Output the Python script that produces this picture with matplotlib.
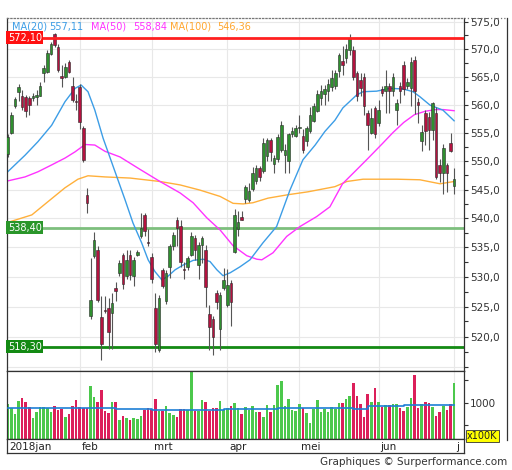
import numpy as np
import matplotlib
matplotlib.use("Agg")
import matplotlib.pyplot as plt
from matplotlib.ticker import FixedLocator, FuncFormatter, NullFormatter

# ---- data (AEX, jan-jul 2018) ----
opens = [551.2, 555.0, 559.8, 562.3, 561.5, 561.3, 561.2, 561.2, 561.3, 561.6,
         565.6, 565.9, 569.2, 572.7, 570.4, 565.1, 565.0, 567.7, 563.4, 560.7,
         563.2, 555.8, 544.1, 523.5, 533.6, 534.6, 523.3, 524.5, 524.8, 524.0,
         528.2, 530.7, 533.8, 530.1, 533.8, 530.1, 533.8, 537.0, 540.5, 535.9,
         533.3, 524.8, 517.8, 531.2, 526.0, 531.6, 535.2, 539.7, 538.6, 531.3,
         531.6, 533.8, 536.6, 532.1, 535.5, 534.6, 523.7, 522.9, 527.2, 521.3,
         528.1, 525.3, 529.0, 534.3, 538.1, 540.3, 543.4, 543.1, 545.1, 546.5,
         548.8, 548.2, 550.9, 553.7, 549.4, 550.3, 552.0, 551.1, 550.0, 554.7,
         554.4, 555.9, 554.4, 553.5, 555.3, 557.1, 558.8, 561.2, 561.8, 562.4,
         563.1, 563.3, 566.0, 567.9, 568.4, 569.8, 569.8, 565.6, 564.4, 565.0,
         558.5, 555.0, 559.3, 556.7, 562.7, 562.4, 563.3, 562.4, 559.0, 563.3,
         567.1, 563.3, 562.9, 568.0, 560.5, 553.5, 558.5, 557.8, 555.5, 558.5,
         549.2, 547.8, 549.2, 553.2, 545.7]
highs = [554.8, 558.6, 561.4, 563.6, 562.6, 561.7, 561.5, 562.0, 562.6, 564.0,
         567.1, 569.8, 571.3, 573.0, 570.9, 567.1, 567.4, 568.0, 564.9, 561.9,
         563.7, 556.1, 545.2, 533.2, 537.6, 535.2, 526.7, 526.7, 526.5, 527.3,
         529.2, 532.9, 534.1, 534.6, 534.6, 533.3, 534.6, 540.9, 540.9, 538.1,
         534.1, 527.3, 526.9, 531.5, 531.2, 535.6, 537.6, 540.3, 539.7, 532.5,
         533.5, 537.6, 537.1, 535.9, 536.9, 535.4, 525.3, 523.5, 527.8, 527.5,
         531.5, 531.3, 529.4, 541.7, 541.2, 541.3, 545.8, 546.2, 549.0, 549.2,
         549.1, 554.0, 554.0, 554.0, 551.0, 554.8, 557.0, 553.0, 555.0, 556.0,
         556.3, 558.2, 555.6, 556.2, 559.5, 560.2, 562.6, 563.5, 563.5, 564.6,
         566.2, 566.3, 569.3, 570.5, 571.0, 572.8, 570.5, 566.0, 565.6, 565.6,
         559.0, 559.3, 559.7, 560.8, 563.3, 566.2, 563.9, 565.6, 561.0, 564.0,
         567.9, 564.8, 568.6, 568.7, 561.2, 556.3, 559.0, 558.6, 560.5, 559.5,
         550.3, 553.0, 549.7, 554.9, 548.8]
lows = [550.7, 554.8, 559.4, 560.6, 559.0, 557.8, 558.2, 560.6, 560.0, 561.5,
        564.1, 565.6, 568.9, 570.4, 565.9, 563.2, 564.7, 565.6, 560.4, 559.1,
        555.6, 549.8, 540.9, 522.9, 533.2, 525.8, 516.1, 523.9, 517.9, 517.9,
        526.0, 530.1, 528.0, 529.6, 529.5, 528.5, 533.6, 536.7, 537.0, 535.2,
        529.0, 517.4, 517.5, 528.1, 525.4, 529.8, 534.5, 535.2, 531.6, 529.7,
        531.2, 533.5, 532.9, 529.6, 532.3, 525.0, 517.8, 516.9, 524.6, 517.8,
        527.8, 524.9, 521.8, 534.0, 537.0, 539.7, 542.6, 542.8, 544.8, 546.0,
        546.5, 547.9, 550.0, 550.0, 547.9, 549.8, 551.6, 547.9, 547.9, 554.2,
        554.2, 555.0, 551.4, 552.7, 555.0, 556.8, 558.6, 560.0, 560.0, 560.6,
        562.4, 562.8, 564.9, 565.4, 567.5, 569.0, 564.4, 560.7, 561.5, 558.2,
        552.0, 554.7, 554.0, 556.2, 561.5, 558.5, 558.5, 561.5, 556.4, 560.2,
        561.7, 562.7, 559.7, 558.3, 556.7, 551.8, 552.8, 552.0, 553.7, 546.9,
        546.3, 544.3, 544.6, 551.6, 544.3]
closes = [554.2, 558.2, 561.0, 563.1, 559.5, 558.9, 560.0, 561.6, 561.7, 563.4,
          566.6, 569.3, 570.9, 570.7, 566.2, 564.8, 566.8, 565.9, 560.8, 560.4,
          556.9, 550.1, 542.6, 526.1, 536.3, 526.1, 518.8, 524.3, 520.7, 525.6,
          527.6, 532.4, 528.8, 532.9, 530.4, 532.9, 534.2, 538.4, 537.8, 535.7,
          529.6, 518.8, 526.5, 528.5, 530.7, 535.2, 537.2, 538.3, 532.6, 531.1,
          533.2, 536.9, 534.6, 535.5, 536.6, 528.3, 521.5, 519.9, 525.8, 527.0,
          529.5, 528.7, 525.8, 540.5, 539.4, 539.7, 545.4, 544.8, 547.9, 548.8,
          547.1, 553.2, 553.7, 551.5, 550.6, 554.3, 556.3, 552.0, 554.7, 555.3,
          555.9, 556.0, 552.0, 555.9, 558.2, 559.7, 561.8, 562.4, 562.7, 563.6,
          564.8, 565.6, 568.9, 567.2, 570.1, 572.0, 565.0, 561.5, 562.9, 559.7,
          556.4, 557.6, 554.7, 559.0, 562.1, 563.3, 562.4, 565.0, 560.2, 562.4,
          562.7, 564.1, 567.7, 562.4, 560.0, 555.1, 555.3, 555.4, 560.2, 547.2,
          547.8, 552.3, 547.8, 551.8, 546.8]

# volume in units of 100K
volumes = [968, 886, 746, 1042, 1094, 1005, 894, 649, 797, 894,
           894, 872, 797, 923, 835, 857, 671, 746, 923, 1057,
           909, 886, 872, 1368, 1131, 1020, 1279, 820, 775, 1005,
           1005, 612, 701, 649, 612, 664, 627, 701, 835, 872,
           857, 1072, 820, 820, 923, 775, 723, 686, 857, 857,
           835, 1687, 820, 820, 1057, 1020, 820, 872, 872, 1035,
           835, 872, 931, 983, 872, 738, 894, 835, 931, 797,
           797, 686, 946, 797, 946, 1390, 1487, 923, 1072, 835,
           820, 960, 872, 775, 553, 857, 1057, 783, 857, 797,
           909, 857, 983, 983, 1079, 1146, 1427, 1146, 968, 671,
           1190, 1005, 1316, 1005, 909, 946, 946, 968, 968, 872,
           812, 909, 1094, 1613, 872, 968, 1005, 983, 894, 701,
           797, 931, 835, 968, 1427]

# moving averages, read at sample days
ma20_days = [0, 4.8, 8.4, 12.2, 15.9, 18.7, 20.4, 22.3, 24.2, 26.5, 32.6, 34.8,
             37.2, 39.0, 40.9, 42.8, 44.5, 46.5, 48.7, 51.5, 54.3, 56.2, 58.1,
             59.8, 61.8, 64.5, 67.3, 70.9, 74.7, 78.4, 82.0, 85.4, 88.1, 90.9,
             93.1, 96.9, 98.7, 102.5, 106.2, 109.8, 112.6, 114.5, 117.3, 120.9, 124]
ma20_vals = [548.1, 551.0, 553.4, 556.3, 560.5, 562.9, 563.5, 562.3, 559.0, 554.0,
             543.2, 539.2, 535.8, 532.9, 530.9, 529.5, 530.1, 531.2, 532.0, 532.8,
             533.0, 532.6, 531.2, 530.2, 530.7, 531.7, 532.9, 535.8, 538.6, 544.9,
             550.2, 552.8, 555.2, 557.2, 559.4, 561.7, 562.3, 562.4, 562.9, 562.8,
             562.3, 561.4, 559.9, 559.0, 557.1]
ma50_days = [0, 4.8, 8.4, 12.2, 15.9, 18.7, 21.5, 24.2, 27.0, 31.2, 36.8, 42.3,
             47.9, 51.5, 55.3, 59.0, 62.6, 66.4, 69.2, 70.6, 73.7, 77.5, 81.2,
             85.8, 89.5, 93, 97, 100, 104, 107, 110, 113, 116, 119, 121, 124]
ma50_vals = [546.5, 547.2, 548.1, 549.3, 550.5, 551.6, 552.9, 552.8, 551.7, 550.7,
             548.5, 546.4, 544.4, 542.7, 540.1, 538.0, 535.3, 533.6, 533.0, 532.9,
             534.1, 536.9, 538.6, 540.3, 542.0, 546.0, 548.5, 550.4, 553.0, 555.0,
             556.8, 558.2, 558.8, 559.1, 559.1, 558.9]
ma100_days = [0, 6.7, 11.2, 15.9, 19.5, 22.3, 27.0, 34, 42.3, 47.9, 53.4, 59.0,
              62.6, 65.4, 68.1, 72.3, 77.9, 83.4, 90.9, 94.2, 98.7, 108.1, 114.5,
              120.1, 124]
ma100_vals = [539.3, 540.6, 542.9, 545.3, 546.8, 547.4, 547.2, 547.0, 546.4, 545.8,
              544.9, 543.8, 542.6, 542.5, 542.7, 543.5, 544.1, 544.6, 545.5, 546.4,
              546.8, 546.8, 546.7, 546.0, 546.4]
vol_ma_days = [0, 10, 20, 30, 40, 50, 55, 60, 70, 75, 80, 90, 96, 100, 105, 110, 124]
vol_ma_vals = [872, 872, 872, 868, 840, 828, 842, 850, 853, 870, 886, 880, 864,
               920, 935, 946, 946]

resistance = 572.10
supports = [538.40, 518.30]
month_days = [20, 40, 61, 81, 103, 124]
month_labels = ["feb", "mrt", "apr", "mei", "jun", "j"]

# ---- figure ----
W, H = 512, 470
fig = plt.figure(figsize=(W / 100, H / 100), dpi=100)
plt.rcParams['font.family'] = ['DejaVu Sans']


def box(l, t, r, b):
    return [l / W, 1 - b / H, (r - l) / W, (b - t) / H]


ax = fig.add_axes(box(7, 18, 464, 371))
axv = fig.add_axes(box(7, 371, 464, 439), sharex=ax)
axd = fig.add_axes(box(7, 439, 464, 453), sharex=ax)

n = len(closes)
days = np.arange(n)
o = np.array(opens)
c = np.array(closes)
up = c >= o
green_c, red_c = '#2f8f2f', '#b3123f'
cols = np.where(up, green_c, red_c)

ax.set_yscale('log')
ax.vlines(days, lows, highs, color='#555555', lw=0.8, zorder=3)
ax.bar(days, np.maximum(np.abs(c - o), 0.15), bottom=np.minimum(o, c), width=0.68,
       color=cols, edgecolor='#2a2a2a', lw=0.4, zorder=4)

ax.plot(ma100_days, ma100_vals, color='#ffb03b', lw=1.0, zorder=2)
ax.plot(ma50_days, ma50_vals, color='#ff33ff', lw=1.0, zorder=2)
ax.plot(ma20_days, ma20_vals, color='#3c9de6', lw=1.0, zorder=2)

ax.axhline(resistance, color='#ff2020', lw=2, zorder=5)
ax.axhline(supports[0], color='#7dbf7d', lw=2, zorder=1)
ax.axhline(supports[1], color='#138a13', lw=2, zorder=1)

lab_kw = dict(transform=ax.get_yaxis_transform(), ha='left', va='center',
              fontsize=7, color='white', zorder=6)
ax.text(0.002, resistance, "572,10", bbox=dict(boxstyle='square,pad=0.15', fc='#ff1010', ec='none'), **lab_kw)
ax.text(0.002, supports[0], "538,40", bbox=dict(boxstyle='square,pad=0.15', fc='#2a962a', ec='none'), **lab_kw)
ax.text(0.002, supports[1], "518,30", bbox=dict(boxstyle='square,pad=0.15', fc='#138a13', ec='none'), **lab_kw)

ylo, yhi = 514.3, 575.7
ax.set_ylim(ylo, yhi)
ax.set_xlim(-0.2, 126.75)
ax.yaxis.tick_right()
majors = np.arange(515, 576, 5)
ax.yaxis.set_major_locator(FixedLocator(majors))
ax.yaxis.set_minor_locator(FixedLocator(majors + 2.5))
ax.yaxis.set_major_formatter(FuncFormatter(
    lambda v, p: "" if v < 517 else f"{v:.1f}".replace('.', ',')))
ax.yaxis.set_minor_formatter(NullFormatter())
ax.tick_params(axis='y', which='major', length=3, pad=1.5, labelsize=7.5,
               colors='#333333', width=0.8)
ax.tick_params(axis='y', which='minor', length=3, color='#333333', width=0.8)
ax.tick_params(axis='x', bottom=False, labelbottom=False)
for v in majors:
    ax.axhline(v, color='#e8e8e8', lw=0.8, zorder=0)
for d in month_days:
    ax.axvline(d, color='#e8e8e8', lw=0.8, zorder=0)
    axv.axvline(d, color='#e8e8e8', lw=0.8, zorder=0)

for a in (ax, axv, axd):
    for s in a.spines.values():
        s.set_color('#333333')
        s.set_linewidth(0.9)
ax.spines['top'].set_linestyle(':')
ax.spines['top'].set_color('#777777')

# MA legend
top = 0.975
for xp, txt, col in [(12, "MA(20)", '#3c9de6'), (49.5, "557,11", '#3c9de6'),
                     (91, "MA(50)", '#ff33ff'), (133, "558,84", '#ff33ff'),
                     (170, "MA(100)", '#ffa62e'), (217, "546,36", '#ffa62e')]:
    ax.text((xp - 7) / 457, top, txt, transform=ax.transAxes, color=col,
            fontsize=7, ha='left', va='center', zorder=7)

# volume panel
vcols = np.where(up, '#4cc84c', '#dc1f5a')
axv.bar(days, volumes, width=0.72, color=vcols, zorder=2)
axv.plot(vol_ma_days, vol_ma_vals, color='#1e7fd6', lw=1.2, zorder=3,
         drawstyle='steps-post')
axv.set_ylim(191, 1702)
axv.yaxis.tick_right()
axv.set_yticks([500, 1000, 1500])
axv.set_yticklabels(["", "1000", ""])
axv.tick_params(axis='y', length=3, pad=1.5, labelsize=7.5, colors='#333333', width=0.8)
axv.tick_params(axis='x', bottom=False, labelbottom=False)

# date strip
axd.set_yticks([])
axd.tick_params(axis='x', bottom=False, labelbottom=False)
axd.text(0.5, 0.45, "2018jan", ha='left', va='center', fontsize=7.5, color='#222222',
         transform=axd.get_xaxis_transform())
for d, lab in zip(month_days, month_labels):
    axd.text(d + 0.5, 0.45, lab, ha='left', va='center', fontsize=7.5, color='#222222',
             transform=axd.get_xaxis_transform())

# outer frame pieces and footer
fig.add_artist(plt.Line2D([464 / W, 507 / W], [1 - 18 / H, 1 - 18 / H],
                          color='#777777', lw=0.9, ls=':'))
fig.add_artist(plt.Line2D([507 / W, 507 / W], [1 - 18 / H, 1 - 440 / H],
                          color='#333333', lw=0.9))
fig.text(467 / W, 1 - 436 / H, "x100K", fontsize=7, color='#222222', ha='left',
         va='center', bbox=dict(boxstyle='square,pad=0.15', fc='#ffff00', ec='#333333', lw=0.6))
fig.text(507 / W, 1 - 462 / H, "Graphiques \u00a9 Surperformance.com", fontsize=7.5,
         color='#333333', ha='right', va='center')

fig.savefig("out.png", dpi=100)
